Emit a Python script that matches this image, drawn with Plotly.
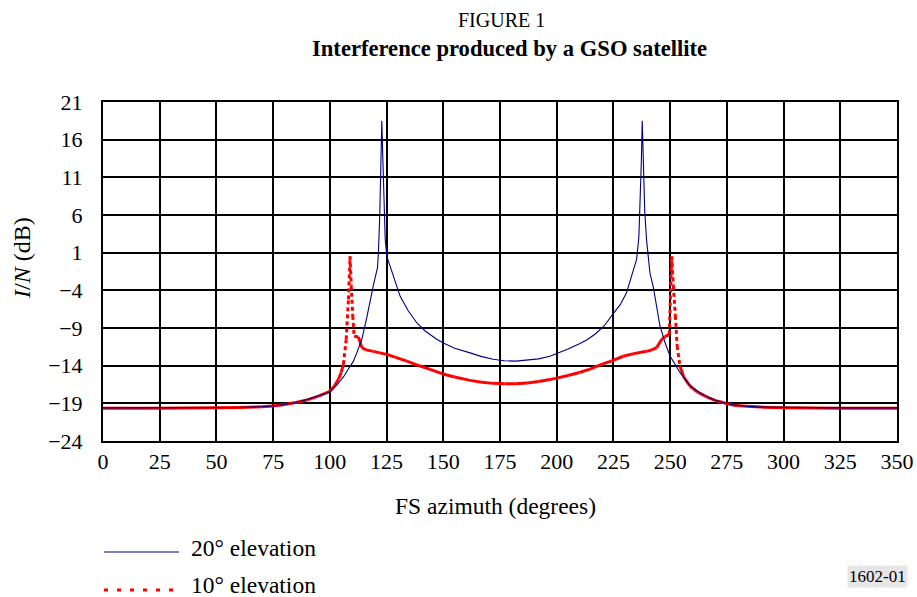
import plotly.graph_objects as go

# ---------------- data ----------------
x_ticks = list(range(0, 351, 25))
y_ticks = list(range(-24, 22, 5))

blue_az = [0, 25, 50, 60, 70, 75, 80, 85, 90, 95, 100, 103, 106, 108, 110.4, 112,
           114.1, 116.3, 117.8, 119.2, 121.0, 121.4, 122.0, 122.5, 122.9, 123.4,
           124.0, 124.4, 125.1, 126.6, 128.0, 131.0, 134.6, 138.3, 142, 147.1, 150,
           155, 161.8, 167, 172, 177, 182, 187, 192, 197, 200, 205, 210, 213.2, 217,
           221, 224.9, 228, 230.8, 233.7, 235.2, 236.2, 236.9, 237.3, 237.7, 238.2,
           238.8, 239.6, 241.1, 242.6, 244.1, 245.5, 247.7, 249.9, 254.3, 258.7, 262,
           266.1, 270, 273.4, 278, 283.7, 290, 300, 325, 350]
blue_db = [-19.6, -19.6, -19.6, -19.55, -19.45, -19.35, -19.15, -18.9, -18.5, -18.0,
           -17.5, -16.6, -15.5, -14.5, -13.4, -12.2, -10.5, -7.6, -5.3, -3.3, -1.0,
           1.0, 6.0, 13.0, 18.5, 13.0, 7.0, 2.8, 0.5, -0.8, -2.1, -4.8, -6.75, -8.3,
           -9.4, -10.5, -11.0, -11.7, -12.3, -12.8, -13.15, -13.35, -13.4, -13.3,
           -13.1, -12.75, -12.4, -11.8, -11.1, -10.6, -9.8, -8.7, -7.1, -5.9, -4.3,
           -1.5, 0.1, 3.0, 8.0, 13.0, 18.5, 12.5, 6.5, 2.7, -1.7, -3.6, -6.1, -8.7,
           -10.9, -12.7, -14.9, -16.6, -17.4, -18.1, -18.6, -18.9, -19.2, -19.4,
           -19.5, -19.55, -19.6, -19.6]

red_az = [0, 25, 50, 60, 70, 75, 80, 85, 90, 95, 100, 102, 103.8, 105, 106, 107.2,
          108.2, 108.9, 109.4, 110.1, 110.7, 112.6, 114.1, 116, 119.2, 122, 125.1,
          129, 133.9, 139.8, 144.2, 149.8, 155, 161.8, 167, 172, 177, 182, 187, 192,
          197, 200, 205, 210, 214.7, 220, 224, 229.3, 234, 239.6, 242, 244.1, 246.3,
          247.7, 249.6, 250.7, 251.4, 252.3, 253.1, 254.3, 256, 258.7, 262, 266.1,
          270, 273.4, 278, 283.7, 290, 300, 325, 350]
red_db = [-19.65, -19.65, -19.6, -19.55, -19.45, -19.35, -19.15, -18.9, -18.55, -18.05,
          -17.4, -16.7, -15.8, -14.9, -13.8, -10.5, -5.2, 0.5, -3.4, -7.4, -10.1,
          -10.2, -11.6, -11.9, -12.1, -12.3, -12.5, -12.9, -13.4, -14.05, -14.5,
          -15.1, -15.5, -15.95, -16.2, -16.35, -16.4, -16.4, -16.3, -16.1, -15.85,
          -15.65, -15.3, -14.9, -14.45, -13.8, -13.4, -12.75, -12.4, -12.1, -11.9,
          -11.6, -10.5, -10.15, -9.85, 0.5, -3.4, -7.4, -11.4, -14.05, -15.5, -16.7,
          -17.5, -18.15, -18.65, -18.9, -19.25, -19.4, -19.5, -19.6, -19.65, -19.65]

series_names = ["20° elevation", "10° elevation"]

# ---------------- layout geometry ----------------
W, H = 917, 597
ML, MR, MT, MB = 103, 20, 102, 156
PW, PH = W - ML - MR, H - MT - MB
FONT = "Liberation Serif"


def px_x(p):
    return (p - ML) / PW


def px_y(p):
    return (H - MB - p) / PH


# Split the dotted red series: long (steep) segments show the dot pattern,
# short segments render as a continuous line (as in the original drawing).
solid_x, solid_y, dot_x, dot_y = [], [], [], []
for i in range(len(red_az) - 1):
    seg_x = [red_az[i], red_az[i + 1], None]
    seg_y = [red_db[i], red_db[i + 1], None]
    if abs(red_db[i + 1] - red_db[i]) > 2.0:
        dot_x += seg_x
        dot_y += seg_y
    else:
        solid_x += seg_x
        solid_y += seg_y

fig = go.Figure()
fig.add_trace(go.Scatter(x=solid_x, y=solid_y, mode="lines", showlegend=False,
                         line=dict(color="#ff0000", width=3), connectgaps=False,
                         hoverinfo="skip"))
fig.add_trace(go.Scatter(x=dot_x, y=dot_y, mode="lines", showlegend=False,
                         line=dict(color="#ff0000", width=3, dash="4px,3px"),
                         connectgaps=False, hoverinfo="skip"))
fig.add_trace(go.Scatter(x=blue_az, y=blue_db, mode="lines", name=series_names[0],
                         showlegend=False, line=dict(color="#000080", width=1.1)))

axis_common = dict(showgrid=True, gridcolor="black", gridwidth=2, showline=True,
                   linecolor="black", linewidth=2, mirror=True, ticks="",
                   zeroline=False, automargin=False,
                   tickfont=dict(family=FONT, size=22, color="black"))
fig.update_xaxes(range=[0, 350], tickvals=x_ticks, ticklabelstandoff=0, **axis_common)
fig.update_yaxes(range=[-24, 21], tickvals=y_ticks, ticklabelstandoff=14, **axis_common)

ann = []
ann.append(dict(text="FIGURE 1", x=px_x(501), y=px_y(20), xref="paper", yref="paper",
                showarrow=False, xanchor="center", yanchor="middle",
                font=dict(family=FONT, size=20, color="black")))
ann.append(dict(text="<b>Interference produced by a GSO satellite</b>", x=px_x(509),
                y=px_y(49), xref="paper", yref="paper", showarrow=False,
                xanchor="center", yanchor="middle",
                font=dict(family=FONT, size=22.6, color="black")))
ann.append(dict(text="FS azimuth (degrees)", x=px_x(495), y=px_y(506), xref="paper",
                yref="paper", showarrow=False, xanchor="center", yanchor="middle",
                font=dict(family=FONT, size=23.5, color="black")))
ann.append(dict(text="<i>I</i>/<i>N</i> (dB)", x=px_x(22), y=px_y(258), xref="paper",
                yref="paper", showarrow=False, xanchor="center", yanchor="middle",
                textangle=-90, font=dict(family=FONT, size=24, color="black")))
ann.append(dict(text=series_names[0], x=px_x(189), y=px_y(548), xref="paper",
                yref="paper", showarrow=False, xanchor="left", yanchor="middle",
                font=dict(family=FONT, size=23.5, color="black")))
ann.append(dict(text=series_names[1], x=px_x(189), y=px_y(600), xref="paper",
                yref="paper", showarrow=False, xanchor="left", yanchor="bottom",
                font=dict(family=FONT, size=23.5, color="black")))
ann.append(dict(text="1602-01", x=px_x(877), y=px_y(576), xref="paper", yref="paper",
                showarrow=False, xanchor="center", yanchor="middle",
                bgcolor="#e6e6e6", borderpad=1,
                font=dict(family=FONT, size=17, color="black")))

shapes = [
    dict(type="line", xref="paper", yref="paper", x0=px_x(104), x1=px_x(179),
         y0=px_y(552), y1=px_y(552), line=dict(color="#000080", width=1.1)),
    dict(type="line", xref="paper", yref="paper", x0=px_x(104), x1=px_x(179),
         y0=px_y(590), y1=px_y(590), line=dict(color="#ff0000", width=3, dash="4px,9px")),
]

fig.update_layout(width=W, height=H, margin=dict(l=ML, r=MR, t=MT, b=MB),
                  paper_bgcolor="white", plot_bgcolor="white", showlegend=False,
                  annotations=ann, shapes=shapes,
                  font=dict(family=FONT, color="black"))

fig.write_html("out.html")
